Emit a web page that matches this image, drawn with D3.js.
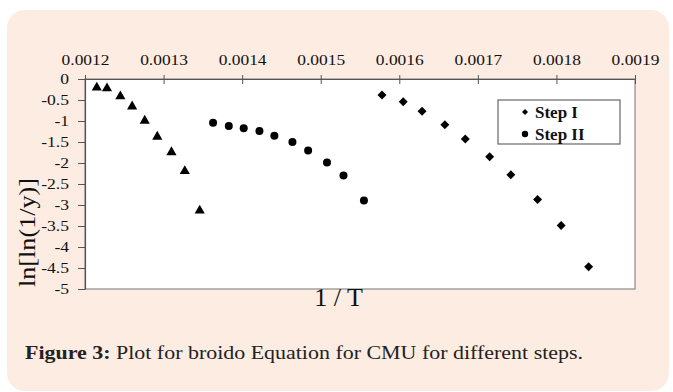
<!DOCTYPE html>
<html>
<head>
<meta charset="utf-8">
<script src="https://cdn.jsdelivr.net/npm/d3@7"></script>
<style>
  body { margin: 0; background: #fff; }
  svg { display: block; }
</style>
</head>
<body>
<svg id="chart" width="673" height="392"></svg>
<script>
// tick values
const xTicks = [0.0012, 0.0013, 0.0014, 0.0015, 0.0016, 0.0017, 0.0018, 0.0019];
const yTicks = [0, -0.5, -1, -1.5, -2, -2.5, -3, -3.5, -4, -4.5, -5];

// Step I (diamonds)
const stepIx = [0.001578, 0.001605, 0.001629, 0.001658, 0.001684, 0.001715, 0.001742, 0.001776, 0.001806, 0.001841];
const stepIy = [-0.38, -0.54, -0.77, -1.09, -1.43, -1.85, -2.28, -2.87, -3.49, -4.47];

// Step II (circles)
const stepIIx = [0.001363, 0.001383, 0.001402, 0.001422, 0.001441, 0.001464, 0.001484, 0.001508, 0.001529, 0.001555];
const stepIIy = [-1.04, -1.12, -1.17, -1.24, -1.35, -1.50, -1.70, -1.99, -2.30, -2.89];

// third set (triangles, not in legend)
const triX = [0.001215, 0.001228, 0.001245, 0.001260, 0.001276, 0.001292, 0.001310, 0.001327, 0.001346];
const triY = [-0.18, -0.20, -0.39, -0.63, -0.97, -1.35, -1.72, -2.17, -3.11];

const legendLabels = ['Step I', 'Step II'];

const svg = d3.select('#chart');
const plot = {left: 85, right: 635, top: 79, bottom: 289};
const serif = '"Liberation Serif", "Times New Roman", serif';

// stretch text sideways, the original chart was squashed wider
function stretch(sel, k) {
  sel.each(function() {
    const w = this.getComputedTextLength();
    d3.select(this).attr('textLength', w * k).attr('lengthAdjust', 'spacingAndGlyphs');
  });
}

// card background
svg.append('rect')
  .attr('x', 7).attr('y', 10)
  .attr('width', 662).attr('height', 381)
  .attr('rx', 18)
  .attr('fill', '#fcece2');

const x = d3.scaleLinear().domain([0.0012, 0.0019]).range([plot.left, plot.right]);
const y = d3.scaleLinear().domain([0, -5]).range([plot.top, plot.bottom]);

// plot area
svg.append('rect')
  .attr('x', plot.left).attr('y', plot.top)
  .attr('width', plot.right - plot.left).attr('height', plot.bottom - plot.top)
  .attr('fill', '#fff')
  .attr('stroke', '#8a8a8a')
  .attr('stroke-width', 1.2);

// x axis on top
const xAxis = svg.append('g')
  .attr('transform', `translate(0,${plot.top})`)
  .call(d3.axisTop(x).tickValues(xTicks).tickFormat(d3.format('.4f')).tickSizeOuter(0));
xAxis.select('.domain').attr('stroke', '#555').attr('stroke-width', 1.2);
xAxis.selectAll('.tick line').attr('y1', 5).attr('y2', -4).attr('stroke', '#555');
xAxis.selectAll('.tick text')
  .attr('y', -14).attr('dy', 0)
  .attr('font-family', serif)
  .attr('font-size', 15)
  .attr('fill', '#111')
  .call(stretch, 1.16);

// y axis, plain hyphen for the minus
const yAxis = svg.append('g')
  .attr('transform', `translate(${plot.left},0)`)
  .call(d3.axisLeft(y).tickValues(yTicks).tickFormat(d => String(d)).tickSizeOuter(0).tickSizeInner(7));
yAxis.select('.domain').attr('stroke', '#555').attr('stroke-width', 1.2);
yAxis.selectAll('.tick line').attr('stroke', '#555');
yAxis.selectAll('.tick text')
  .attr('x', -16)
  .attr('font-family', serif)
  .attr('font-size', 15)
  .attr('fill', '#111')
  .call(stretch, 1.17);

// markers
const diamond = d3.symbol().type(d3.symbolSquare).size(40);
const tri = d3.symbol().type(d3.symbolTriangle).size(45);

svg.append('g').selectAll('path')
  .data(d3.zip(triX, triY))
  .join('path')
  .attr('d', tri)
  .attr('transform', d => `translate(${x(d[0])},${y(d[1]) + 1})`)
  .attr('fill', '#000');

svg.append('g').selectAll('circle')
  .data(d3.zip(stepIIx, stepIIy))
  .join('circle')
  .attr('cx', d => x(d[0]))
  .attr('cy', d => y(d[1]))
  .attr('r', 4)
  .attr('fill', '#000');

svg.append('g').selectAll('path')
  .data(d3.zip(stepIx, stepIy))
  .join('path')
  .attr('d', diamond)
  .attr('transform', d => `translate(${x(d[0])},${y(d[1])}) rotate(45)`)
  .attr('fill', '#000');

// legend
const legend = svg.append('g').attr('transform', 'translate(498,100)');
legend.append('rect')
  .attr('width', 122).attr('height', 44)
  .attr('fill', '#fff')
  .attr('stroke', '#666')
  .attr('stroke-width', 1.2);
legend.append('path')
  .attr('d', d3.symbol().type(d3.symbolSquare).size(18))
  .attr('transform', 'translate(27,12) rotate(45)')
  .attr('fill', '#000');
legend.append('circle')
  .attr('cx', 27).attr('cy', 34).attr('r', 3.2)
  .attr('fill', '#000');
legend.selectAll('text')
  .data(legendLabels)
  .join('text')
  .attr('x', 37)
  .attr('y', (d, i) => 18 + i * 22)
  .attr('font-family', serif)
  .attr('font-weight', 'bold')
  .attr('font-size', 17)
  .attr('fill', '#111')
  .text(d => d);

// axis titles
svg.append('text')
  .attr('x', 338.5).attr('y', 306)
  .attr('text-anchor', 'middle')
  .attr('font-family', serif)
  .attr('font-size', 26)
  .attr('fill', '#111')
  .text('1 / T');

svg.append('text')
  .attr('transform', 'translate(35,232.5) rotate(-90)')
  .attr('text-anchor', 'middle')
  .attr('font-family', serif)
  .attr('font-size', 24)
  .attr('fill', '#111')
  .attr('textLength', 109)
  .attr('lengthAdjust', 'spacingAndGlyphs')
  .text('ln[ln(1/y)]');

// caption
const cap = svg.append('text')
  .attr('x', 25).attr('y', 359)
  .attr('font-family', serif)
  .attr('font-size', 18)
  .attr('fill', '#222');
cap.append('tspan').attr('font-weight', 'bold').text('Figure 3:');
cap.append('tspan').text(' Plot for broido Equation for CMU for different steps.');
cap.attr('textLength', 558).attr('lengthAdjust', 'spacingAndGlyphs');
</script>
</body>
</html>
